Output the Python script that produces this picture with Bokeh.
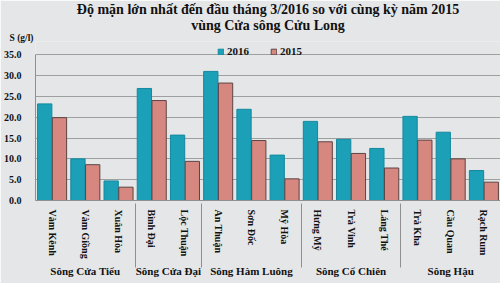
from bokeh.plotting import figure
from bokeh.models import (ColumnDataSource, FactorRange, Range1d, FixedTicker,
                          NumeralTickFormatter, Title, Legend, LegendItem, LinearAxis)
from bokeh.transform import dodge
from bokeh.embed import file_html
from bokeh.resources import INLINE

# ---------------- data ----------------
groups = ["Sông Cửa Tiểu", "Sông Cửa Tiểu", "Sông Cửa Tiểu",
          "Sông Cửa Đại", "Sông Cửa Đại",
          "Sông Hàm Luông", "Sông Hàm Luông", "Sông Hàm Luông",
          "Sông Cổ Chiên", "Sông Cổ Chiên", "Sông Cổ Chiên",
          "Sông Hậu", "Sông Hậu", "Sông Hậu"]
stations = ["Vàm Kênh", "Vàm Giồng", "Xuân Hòa",
            "Bình Đại", "Lộc Thuận",
            "An Thuận", "Sơn Đốc", "Mỹ Hòa",
            "Hưng Mỹ", "Trà Vinh", "Láng Thé",
            "Trà Kha", "Cầu Quan", "Rạch Rum"]
s2016 = [23.2, 10.0, 4.7, 26.9, 15.7, 31.0, 21.9, 10.9, 19.0, 14.7, 12.5, 20.2, 16.4, 7.2]
s2015 = [19.9, 8.6, 3.2, 24.0, 9.4, 28.2, 14.4, 5.2, 14.1, 11.3, 7.8, 14.5, 10.0, 4.4]
y_ticks = [0, 5, 10, 15, 20, 25, 30, 35]
y_max = 35

title1 = "Độ mặn lớn nhất đến đầu tháng 3/2016 so với cùng kỳ năm 2015"
title2 = "vùng Cửa sông Cửu Long"
y_title = "S (g/l)"

# ---------------- figure ----------------
BG = "#e4e6e8"
SERIF = "Liberation Serif"
TEAL = "#1ba0b7"
PINK = "#d6877f"
INK = "#111111"
FRAME = "#8e9090"

TOP_GUESS = 44          # canvas y where the frame starts (below the titles)
PX_PER_UNIT = 143 / 35  # plot area 35 units tall over 143 px
y_end = y_max + (57 - TOP_GUESS) / PX_PER_UNIT

factors = list(zip(groups, stations))
src = ColumnDataSource(dict(x=factors, v16=s2016, v15=s2015))

p = figure(width=500, height=283, output_backend="svg", toolbar_location=None,
           x_range=FactorRange(*factors, group_padding=0, range_padding=0),
           y_range=Range1d(0, y_end),
           min_border_left=31, min_border_right=0, min_border_top=0, min_border_bottom=83)
p.background_fill_color = BG
p.border_fill_color = BG
p.outline_line_color = None

r16 = p.vbar(x=dodge("x", -0.222, range=p.x_range), top="v16", width=0.43, source=src,
             fill_color=TEAL, line_color="#15889e", line_width=1)
r15 = p.vbar(x=dodge("x", 0.222, range=p.x_range), top="v15", width=0.43, source=src,
             fill_color=PINK, line_color="#5c4444", line_width=1)

# y axis (its line is the left border of the plot area)
ya = p.yaxis[0]
ya.bounds = (0, y_max)
ya.ticker = FixedTicker(ticks=y_ticks)
ya.formatter = NumeralTickFormatter(format="0.0")
ya.major_tick_line_color = None
ya.minor_tick_line_color = None
ya.axis_line_color = FRAME
ya.major_label_standoff = 8
ya.major_label_text_font = SERIF
ya.major_label_text_font_style = "bold"
ya.major_label_text_font_size = "10px"
ya.major_label_text_color = INK
p.ygrid.grid_line_color = "#9ea0a0"
p.ygrid.grid_line_width = 1
p.xgrid.grid_line_color = None

# right border of the plot area
ra = LinearAxis(bounds=(0, y_max), ticker=FixedTicker(ticks=[]),
                major_label_text_font_size="0px", major_tick_line_color=None,
                minor_tick_line_color=None, axis_line_color=FRAME,
                major_label_standoff=0)
p.add_layout(ra, "right")

# x axis
xa = p.xaxis[0]
xa.major_label_orientation = "vertical"
xa.group_label_orientation = "horizontal"
xa.major_tick_line_color = None
xa.axis_line_color = FRAME
xa.major_label_text_font = SERIF
xa.major_label_text_font_style = "bold"
xa.major_label_text_font_size = "10px"
xa.major_label_text_color = INK
xa.major_label_standoff = 3
xa.group_text_font = SERIF
xa.group_text_font_style = "bold"
xa.group_text_font_size = "11px"
xa.group_text_color = INK
xa.separator_line_color = FRAME
xa.separator_line_width = 1

# legend in the strip above the 35.0 line
legend = Legend(items=[LegendItem(label="2016", renderers=[r16]),
                       LegendItem(label="2015", renderers=[r15])],
                orientation="horizontal", location=(182, 143),
                background_fill_alpha=0, border_line_color=None,
                glyph_width=7, glyph_height=7, label_height=10, label_width=43,
                padding=0, margin=0, spacing=0, label_standoff=3,
                label_text_font=SERIF, label_text_font_style="bold",
                label_text_font_size="11px", label_text_color=INK)
p.add_layout(legend, "center")

p.add_layout(Title(text=y_title, align="left", offset=-26, standoff=-2,
                   text_font=SERIF, text_font_style="bold", text_font_size="9.5px",
                   text_color=INK), "above")
p.add_layout(Title(text=title2, align="center", offset=-9, standoff=-2,
                   text_font=SERIF, text_font_style="bold", text_font_size="14px",
                   text_color=INK), "above")
p.add_layout(Title(text=title1, align="center", offset=-10, standoff=-1,
                   text_font=SERIF, text_font_style="bold", text_font_size="14px",
                   text_color=INK), "above")

open("out.html", "w").write(file_html(p, INLINE))
